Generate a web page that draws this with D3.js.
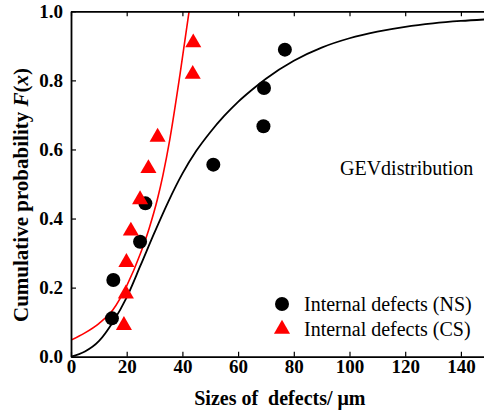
<!DOCTYPE html>
<html>
<head>
<meta charset="utf-8">
<script src="https://cdnjs.cloudflare.com/ajax/libs/d3/7.8.5/d3.min.js"></script>
<style>
  body { margin: 0; background: #fff; }
  svg { display: block; }
  text { font-family: "Liberation Serif", "Times New Roman", serif; }
</style>
</head>
<body>
<svg id="chart"></svg>
<script>
// measured defect sizes (um) and their ranked probabilities
var nsSize = [14.7, 15.2, 24.8, 26.7, 51.1, 69.1, 69.3, 76.8];
var nsProb = [0.111, 0.222, 0.333, 0.444, 0.556, 0.667, 0.778, 0.889];
var csSize = [19.0, 19.7, 19.9, 21.5, 24.8, 27.8, 31.1, 43.7, 43.9];
var csProb = [0.091, 0.182, 0.273, 0.364, 0.455, 0.545, 0.636, 0.818, 0.909];

// GEV fit curves
var nsFitX = [0, 5, 10, 15, 20, 25, 30, 35, 40, 45, 50, 55, 60, 65, 70, 80, 90, 100, 110, 120, 130, 140, 150];
var nsFitY = [0, 0.015, 0.045, 0.1, 0.172, 0.265, 0.36, 0.45, 0.53, 0.596, 0.65, 0.697, 0.738, 0.773, 0.805, 0.857, 0.895, 0.922, 0.941, 0.955, 0.965, 0.972, 0.977];
var csFitX = [0, 5, 10, 15, 20, 25, 28, 31, 33, 35.5, 39.1, 42.4];
var csFitY = [0.048, 0.069, 0.096, 0.135, 0.205, 0.3, 0.37, 0.455, 0.525, 0.63, 0.815, 1.0];

var xTicks = [0, 20, 40, 60, 80, 100, 120, 140];
var yTicks = [0, 0.2, 0.4, 0.6, 0.8, 1.0];

var width = 484, height = 417;
var plotLeft = 71, plotTop = 11.3, plotBottom = 356.7;
var serif = "'Liberation Serif', 'Times New Roman', serif";

var svg = d3.select("#chart").attr("width", width).attr("height", height);

var x = d3.scaleLinear().domain([0, 150]).range([plotLeft, plotLeft + 7.5 * 55.7]);
var y = d3.scaleLinear().domain([0, 1]).range([plotBottom, plotTop]);

svg.append("clipPath").attr("id", "plot")
    .append("rect").attr("x", plotLeft).attr("y", plotTop)
    .attr("width", width - plotLeft).attr("height", plotBottom - plotTop);

// fit lines
var line = d3.line()
    .x(function (d) { return x(d[0]); })
    .y(function (d) { return y(d[1]); })
    .curve(d3.curveMonotoneX);

var g = svg.append("g").attr("clip-path", "url(#plot)");

g.append("path")
    .datum(d3.zip(nsFitX, nsFitY))
    .attr("d", line)
    .attr("fill", "none").attr("stroke", "#000").attr("stroke-width", 1.8);

g.append("path")
    .datum(d3.zip(csFitX, csFitY))
    .attr("d", line)
    .attr("fill", "none").attr("stroke", "#f00").attr("stroke-width", 1.6);

// markers
svg.append("g").selectAll("circle")
    .data(d3.zip(nsSize, nsProb))
    .enter().append("circle")
    .attr("cx", function (d) { return x(d[0]); })
    .attr("cy", function (d) { return y(d[1]); })
    .attr("r", 7)
    .attr("fill", "#000");

var tri = d3.symbol().type(d3.symbolTriangle).size(112);

svg.append("g").selectAll("path")
    .data(d3.zip(csSize, csProb))
    .enter().append("path")
    .attr("d", tri)
    .attr("transform", function (d) { return "translate(" + x(d[0]) + "," + y(d[1]) + ")"; })
    .attr("fill", "#f00");

// axes, ticks inward
function styleAxis(sel) {
    sel.selectAll(".domain").attr("stroke", "#000").attr("stroke-width", 1.8);
    sel.selectAll(".tick line").attr("stroke", "#000").attr("stroke-width", 1.2);
    sel.selectAll("text")
        .style("font-family", serif).style("font-size", "19px").style("font-weight", "bold")
        .attr("fill", "#000");
}

var xAxis = svg.append("g")
    .attr("transform", "translate(0," + plotBottom + ")")
    .call(d3.axisBottom(x).tickValues(xTicks).tickSizeInner(-5).tickSizeOuter(0).tickPadding(3));
styleAxis(xAxis);

var xTop = svg.append("g")
    .attr("transform", "translate(0," + plotTop + ")")
    .call(d3.axisTop(x).tickValues(xTicks).tickSizeInner(-5).tickSizeOuter(0).tickFormat(""));
styleAxis(xTop);

var yAxis = svg.append("g")
    .attr("transform", "translate(" + plotLeft + ",0)")
    .call(d3.axisLeft(y).tickValues(yTicks).tickSizeInner(-5).tickSizeOuter(0).tickPadding(8).tickFormat(d3.format(".1f")));
styleAxis(yAxis);

// titles
svg.append("text")
    .attr("x", x(75)).attr("y", 405)
    .attr("text-anchor", "middle")
    .style("font-size", "20px").style("font-weight", "bold")
    .style("white-space", "pre")
    .text("Sizes of  defects/ \u03bcm");

var yt = svg.append("text")
    .attr("transform", "translate(28,195) rotate(-90)")
    .attr("text-anchor", "middle")
    .style("font-size", "21px").style("font-weight", "bold");
yt.append("tspan").text("Cumulative probability ");
yt.append("tspan").style("font-style", "italic").text("F");
yt.append("tspan").text("(");
yt.append("tspan").style("font-style", "italic").text("x");
yt.append("tspan").text(")");

svg.append("text")
    .attr("x", 340).attr("y", 175)
    .style("font-size", "20px")
    .text("GEVdistribution");

// legend
var legend = svg.append("g").style("font-size", "20px");
legend.append("circle").attr("cx", 282).attr("cy", 304).attr("r", 7).attr("fill", "#000");
legend.append("text").attr("x", 304).attr("y", 310.5).text("Internal defects (NS)");
legend.append("path").attr("d", tri).attr("transform", "translate(282,329)").attr("fill", "#f00");
legend.append("text").attr("x", 304).attr("y", 335.5).text("Internal defects (CS)");
</script>
</body>
</html>
